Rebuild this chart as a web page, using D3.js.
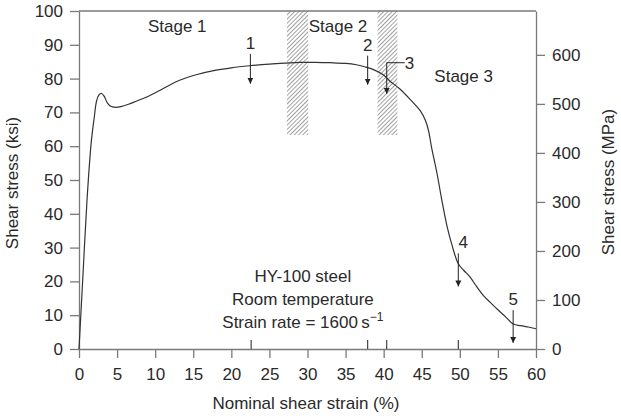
<!DOCTYPE html>
<html><head><meta charset="utf-8">
<script src="https://cdn.jsdelivr.net/npm/d3@7"></script>
<style>
body{margin:0;background:#fff;}
text{font-family:"Liberation Sans",Arial,Helvetica,sans-serif;fill:#2a2a2a;}
</style></head>
<body><svg id="c" width="621" height="416"></svg>
<script>
const strain = [0,0.5,1.05,1.6,2.0,2.3,2.6,2.95,3.3,3.7,4.1,4.8,5.5,6.5,7.5,9.3,11,13.2,15.5,18,20,22.4,25,27.2,29,31,33,35,36.4,37.5,38.5,39.9,40.8,42.1,43.5,44.8,45.5,45.9,46.3,47.0,47.6,48.3,49.0,49.8,50.5,51.3,52.2,53.1,54,55,56,57,58,59,60];
const stress = [0,21,44,61,68.5,73.3,75.1,75.6,74.8,72.9,71.9,71.5,71.7,72.4,73.3,75,77,79.5,81.2,82.5,83.2,83.8,84.3,84.6,84.8,84.8,84.7,84.5,84.1,83.5,82.8,81.2,79.3,77.0,73.8,70.5,67.5,64.5,59.5,52,44.5,36.5,30.5,25.2,23.3,21.4,18.5,15.8,13.8,11.6,9.5,7.4,6.9,6.5,6.0];
const xTicks = [0,5,10,15,20,25,30,35,40,45,50,55,60];
const ksiTicks = [0,10,20,30,40,50,60,70,80,90,100];
const mpaTicks = [0,100,200,300,400,500,600];
// hatched bands: [x0, x1, yBottom(ksi)]
const bands = [[27.3,30.1,63.3],[39.2,41.8,63.3]];
// arrows: label, strain, top (ksi), tip (ksi)
const arrows = [["1",22.5,87.3,78.5],["2",37.9,86.8,78.2],["3",40.4,84.7,75.5],["4",49.8,28.3,18.5],["5",57.0,11.5,1.8]];
const innerTicks = [22.6,37.9,40.4,49.8];
const stages = [["Stage 1",12.9,93.8],["Stage 2",34.0,93.8],["Stage 3",50.5,79.0]];
const notes = ["HY-100 steel","Room temperature","Strain rate = 1600\u2009s"];

const W=621,H=416,m={l:79,r:85,t:11,b:67};
const FS=17;
const svg=d3.select("#c");
const x=d3.scaleLinear().domain([0,60]).range([m.l,W-m.r]);
const y=d3.scaleLinear().domain([0,100]).range([H-m.b,m.t]);
const y2=d3.scaleLinear().domain([0,100*6.89476]).range([H-m.b,m.t]);
const axCol="#7a7a7a";

// hatch pattern
const defs=svg.append("defs");
const pat=defs.append("pattern").attr("id","hatch").attr("patternUnits","userSpaceOnUse")
 .attr("width",3).attr("height",3).attr("patternTransform","rotate(45)");
pat.append("line").attr("x1",0).attr("y1",0).attr("x2",0).attr("y2",3).attr("stroke","#444").attr("stroke-width",1);
bands.forEach(b=>{
  svg.append("rect").attr("x",x(b[0])).attr("y",y(100)).attr("width",x(b[1])-x(b[0])).attr("height",y(b[2])-y(100))
   .attr("fill","url(#hatch)");
});

function styleAxis(g){
  g.selectAll("path,line").attr("stroke",axCol).attr("stroke-width",1.3);
  g.selectAll("text").attr("font-size",FS).attr("fill","#2a2a2a").style("font-family","Liberation Sans,Arial,sans-serif");
}
svg.append("g").attr("transform",`translate(0,${H-m.b})`)
 .call(d3.axisBottom(x).tickValues(xTicks).tickSize(9).tickPadding(10).tickSizeOuter(0)).call(styleAxis);
svg.append("g").attr("transform",`translate(${m.l},0)`)
 .call(d3.axisLeft(y).tickValues(ksiTicks).tickSize(9).tickPadding(7).tickSizeOuter(0)).call(styleAxis);
svg.append("g").attr("transform",`translate(${W-m.r},0)`)
 .call(d3.axisRight(y2).tickValues(mpaTicks).tickSize(9).tickPadding(7).tickSizeOuter(0)).call(styleAxis);
// top border
svg.append("line").attr("x1",x(0)).attr("x2",x(60)).attr("y1",y(100)).attr("y2",y(100)).attr("stroke",axCol).attr("stroke-width",1.3);

// inner ticks
innerTicks.forEach(v=>{
  svg.append("line").attr("x1",x(v)).attr("x2",x(v)).attr("y1",y(0)).attr("y2",y(0)-9).attr("stroke","#333").attr("stroke-width",1.1);
});

// curve
const line=d3.line().x((d,i)=>x(strain[i])).y((d,i)=>y(stress[i])).curve(d3.curveCatmullRom.alpha(0.5));
svg.append("path").datum(strain).attr("d",line).attr("fill","none").attr("stroke","#333").attr("stroke-width",1.2);

// arrows
defs.append("marker").attr("id","ah").attr("viewBox","0 0 10 10").attr("refX",10).attr("refY",5)
 .attr("markerWidth",6).attr("markerHeight",10).attr("markerUnits","userSpaceOnUse").attr("orient","auto")
 .append("path").attr("d","M0,0L10,5L0,10Z").attr("fill","#222");
arrows.forEach(a=>{
  svg.append("line").attr("x1",x(a[1])).attr("x2",x(a[1])).attr("y1",y(a[2])).attr("y2",y(a[3]))
   .attr("stroke","#222").attr("stroke-width",1).attr("marker-end","url(#ah)");
  if(a[0]==="3"){
    svg.append("line").attr("x1",x(a[1])).attr("x2",x(a[1])+18).attr("y1",y(a[2])).attr("y2",y(a[2])).attr("stroke","#222").attr("stroke-width",1);
    svg.append("text").attr("x",x(a[1])+18).attr("y",y(a[2])+6).attr("font-size",FS).text(a[0]);
  } else {
    const dx = a[0]==="4"?5:0;
    svg.append("text").attr("x",x(a[1])+dx).attr("y",y(a[2])-5).attr("text-anchor","middle").attr("font-size",FS).text(a[0]);
  }
});

// stage labels
stages.forEach(s=>{
  svg.append("text").attr("x",x(s[1])).attr("y",y(s[2])).attr("text-anchor","middle").attr("font-size",FS).text(s[0]);
});

// notes
const nx=x(29.4);
const ny=[282,305,328];
notes.forEach((t,i)=>{
  const tx=svg.append("text").attr("x",nx).attr("y",ny[i]).attr("text-anchor","middle").attr("font-size",FS).text(t);
  if(i===2) tx.append("tspan").attr("dy",-7).attr("font-size",12).text("\u22121");
});

// axis titles
svg.append("text").attr("x",306).attr("y",409).attr("text-anchor","middle").attr("font-size",FS).text("Nominal shear strain (%)");
svg.append("text").attr("transform",`translate(18,183) rotate(-90)`).attr("text-anchor","middle").attr("font-size",FS).text("Shear stress (ksi)");
svg.append("text").attr("transform",`translate(614,182) rotate(-90)`).attr("text-anchor","middle").attr("font-size",FS).text("Shear stress (MPa)");
</script></body></html>
